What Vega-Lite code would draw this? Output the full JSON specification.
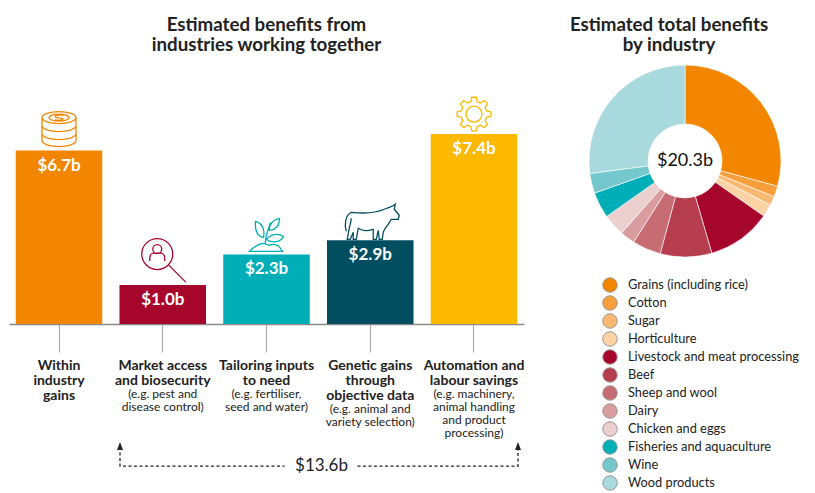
{"$schema":"https://vega.github.io/schema/vega-lite/v6.json","padding":{"left":0,"right":0,"top":16,"bottom":0},"spacing":22,"background":"white","resolve":{"scale":{"color":"independent","x":"independent","y":"independent"},"legend":{"color":"independent"}},"config":{"view":{"stroke":null},"font":"Lato","title":{"font":"Lato","fontSize":18.7,"fontWeight":"bold","color":"#222222","lineHeight":20,"anchor":"middle","offset":5}},"datasets":{"bars":[{"cat":"Within|industry|gains","value":6.7,"label":"$6.7b","note":""},{"cat":"Market access|and biosecurity","value":1.0,"label":"$1.0b","note":"(e.g. pest and|disease control)"},{"cat":"Tailoring inputs|to need","value":2.3,"label":"$2.3b","note":"(e.g. fertiliser,|seed and water)"},{"cat":"Genetic gains|through|objective data","value":2.9,"label":"$2.9b","note":"(e.g. animal and|variety selection)"},{"cat":"Automation and|labour savings","value":7.4,"label":"$7.4b","note":"(e.g. machinery,|animal handling|and product|processing)"}],"shares":[{"industry":"Grains (including rice)","rank":1,"value":5.94},{"industry":"Cotton","rank":2,"value":0.37},{"industry":"Sugar","rank":3,"value":0.31},{"industry":"Horticulture","rank":4,"value":0.43},{"industry":"Livestock and meat processing","rank":5,"value":2.19},{"industry":"Beef","rank":6,"value":1.76},{"industry":"Sheep and wool","rank":7,"value":0.98},{"industry":"Dairy","rank":8,"value":0.51},{"industry":"Chicken and eggs","rank":9,"value":0.75},{"industry":"Fisheries and aquaculture","rank":10,"value":0.89},{"industry":"Wine","rank":11,"value":0.68},{"industry":"Wood products","rank":12,"value":5.5}]},"hconcat":[{"width":533,"height":433,"title":{"text":["Estimated benefits from","industries working together"]},"data":{"name":"bars"},"layer":[{"mark":{"type":"bar"},"encoding":{"x":{"field":"cat","type":"nominal","sort":null,"scale":{"range":[9,524],"paddingInner":0.166,"paddingOuter":0.065},"axis":{"title":null,"offset":-169,"orient":"bottom","domainColor":"#8a8a8a","domainWidth":1.5,"tickColor":"#aaaaaa","tickWidth":1.2,"tickSize":28,"labelAngle":0,"labelFont":"Lato","labelFontWeight":"bold","labelFontSize":14,"labelColor":"#222222","labelLineHeight":15,"labelPadding":6,"labelBaseline":"top","labelLimit":300,"labelOverlap":false,"labelExpr":"split(datum.label,'|')"}},"y":{"field":"value","type":"quantitative","scale":{"domain":[-7.81,10.54],"nice":false,"zero":false},"axis":null},"y2":{"datum":-0.65},"color":{"field":"cat","type":"nominal","sort":null,"scale":{"domain":["Within|industry|gains","Market access|and biosecurity","Tailoring inputs|to need","Genetic gains|through|objective data","Automation and|labour savings"],"range":["#F38600","#A6062C","#00AEB8","#004E60","#FDB800"]},"legend":null}}},{"mark":{"type":"text","color":"white","font":"Lato","fontWeight":"bold","fontSize":17,"dy":15},"encoding":{"x":{"field":"cat","type":"nominal","sort":null},"y":{"field":"value","type":"quantitative"},"text":{"field":"label"}}},{"mark":{"type":"point","filled":false,"size":4,"strokeWidth":1.3,"opacity":1},"encoding":{"x":{"field":"cat","type":"nominal","sort":null},"y":{"field":"value","type":"quantitative"},"color":{"field":"cat","type":"nominal","sort":null,"legend":null},"shape":{"field":"cat","type":"nominal","legend":null,"scale":{"domain":["Within|industry|gains","Market access|and biosecurity","Tailoring inputs|to need","Genetic gains|through|objective data","Automation and|labour savings"],"range":["M-17,-33 A17,6 0 1,1 17,-33 A17,6 0 1,1 -17,-33 Z M-17,-33 V-10 A17,6 0 0,0 17,-10 V-33 M-17,-25 A17,6 0 0,0 17,-25 M-17,-17 A17,6 0 0,0 17,-17 M-10,-33 A10,3.5 0 1,1 10,-33 A10,3.5 0 1,1 -10,-33 Z M4,-35 C2,-36 -3,-36 -4,-34 C-4,-32 4,-33 4,-31.5 C3,-30 -2,-30 -4,-31","M-21,-31 A15.5,15.5 0 1,1 10,-31 A15.5,15.5 0 1,1 -21,-31 Z M6,-20 L23,-3 M-10,-36 A4.5,4.5 0 1,1 -1,-36 A4.5,4.5 0 1,1 -10,-36 Z M-13,-24 V-27 C-13,-30 -11,-32 -9,-32 H-2 C0,-32 2,-30 2,-27 V-24","M-17,-3 C-14,-6 -10,-10 -4,-11 C0,-11 1,-9 3,-9 C6,-11 12,-10 14,-6 C15,-4 16,-3 17,-3 Z M-1,-11 C-2,-18 2,-24 4,-32 M-3,-17 C-8,-18 -12,-22 -11,-33 C-6,-32 -1,-27 -3,-17 Z M3,-24 C2,-30 7,-35 13,-36 C13,-30 11,-25 3,-24 Z M0,-15 C4,-21 12,-21 17,-18 C14,-12 6,-11 0,-15 Z","M-24,-9 C-26,-16 -25,-25 -19,-28 C-10,-27 5,-27 14,-31 C18,-33 22,-33 25,-36 L24,-31 L29,-25 L28,-21 L21,-21 C18,-15 14,-12 13,-8 L12,-1 L9,-1 L8,-10 L6,-1 L3,-1 L3,-11 C-3,-9 -8,-9 -12,-12 L-14,-1 L-17,-1 L-17,-8 L-20,-1 L-23,-1 L-21,-12 C-20,-16 -19,-19 -19,-22","M-3.14,-32.61 L-2.37,-36.83 L2.37,-36.83 L3.14,-32.61 L6.7,-31.14 L10.22,-33.58 L13.58,-30.22 L11.14,-26.7 L12.61,-23.14 L16.83,-22.37 L16.83,-17.63 L12.61,-16.86 L11.14,-13.3 L13.58,-9.78 L10.22,-6.42 L6.7,-8.86 L3.14,-7.39 L2.37,-3.17 L-2.37,-3.17 L-3.14,-7.39 L-6.7,-8.86 L-10.22,-6.42 L-13.58,-9.78 L-11.14,-13.3 L-12.61,-16.86 L-16.83,-17.63 L-16.83,-22.37 L-12.61,-23.14 L-11.14,-26.7 L-13.58,-30.22 L-10.22,-33.58 L-6.7,-31.14 Z M-8,-20 A8,8 0 1,1 8,-20 A8,8 0 1,1 -8,-20 Z"]}}}},{"transform":[{"filter":"datum.cat!='Genetic gains|through|objective data'"}],"mark":{"type":"text","lineBreak":"|","baseline":"top","font":"Lato","fontSize":12,"lineHeight":13,"color":"#222222"},"encoding":{"x":{"field":"cat","type":"nominal","sort":null},"y":{"datum":-3.41},"text":{"field":"note"}}},{"transform":[{"filter":"datum.cat=='Genetic gains|through|objective data'"}],"mark":{"type":"text","lineBreak":"|","baseline":"top","font":"Lato","fontSize":12,"lineHeight":13,"color":"#222222"},"encoding":{"x":{"field":"cat","type":"nominal","sort":null},"y":{"datum":-4.04},"text":{"field":"note"}}},{"transform":[{"filter":"datum.cat=='Tailoring inputs|to need'"}],"mark":{"type":"point","filled":false,"size":4,"strokeWidth":1.3,"opacity":1,"color":"#222222","strokeDash":[3,2.5],"shape":"M-146.5,-19 V0 H18 M91,0 H251.5 V-19"},"encoding":{"x":{"field":"cat","type":"nominal","sort":null},"y":{"datum":-6.67}}},{"transform":[{"filter":"datum.cat=='Tailoring inputs|to need'"}],"mark":{"type":"point","filled":true,"size":4,"opacity":1,"color":"#222222","shape":"M-146.5,-24 L-149.5,-16 L-143.5,-16 Z M251.5,-24 L248.5,-16 L254.5,-16 Z"},"encoding":{"x":{"field":"cat","type":"nominal","sort":null},"y":{"datum":-6.67}}},{"transform":[{"filter":"datum.cat=='Tailoring inputs|to need'"}],"mark":{"type":"text","font":"Lato","fontSize":17,"color":"#222222","dx":55},"encoding":{"x":{"field":"cat","type":"nominal","sort":null},"y":{"datum":-6.67},"text":{"value":"$13.6b"}}}]},{"width":260,"height":202,"title":{"text":["Estimated total benefits","by industry"],"dx":-16},"data":{"name":"shares"},"layer":[{"mark":{"type":"arc","outerRadius":96,"innerRadius":37,"stroke":"white","strokeWidth":1,"strokeOpacity":0.6},"encoding":{"theta":{"field":"value","type":"quantitative","stack":true},"order":{"field":"rank","type":"quantitative"},"color":{"field":"industry","type":"nominal","sort":null,"scale":{"domain":["Grains (including rice)","Cotton","Sugar","Horticulture","Livestock and meat processing","Beef","Sheep and wool","Dairy","Chicken and eggs","Fisheries and aquaculture","Wine","Wood products"],"range":["#F38600","#F79F3C","#FBB870","#FDD3A6","#A6062C","#B63D4E","#C76C72","#D99D9F","#ECD0D0","#00AEB8","#74C7CC","#A8D9DD"]},"legend":{"title":null,"orient":"none","legendX":47,"legendY":217,"symbolType":"circle","symbolSize":210,"symbolStrokeColor":"#999999","symbolStrokeWidth":1,"labelFont":"Lato","labelFontSize":12.8,"labelColor":"#222222","labelOffset":10,"rowPadding":-2.1,"labelLimit":220}}}},{"data":{"values":[{"total":"$20.3b"}]},"mark":{"type":"text","font":"Lato","fontSize":18,"color":"#111111"},"encoding":{"text":{"field":"total"}}}]}]}
